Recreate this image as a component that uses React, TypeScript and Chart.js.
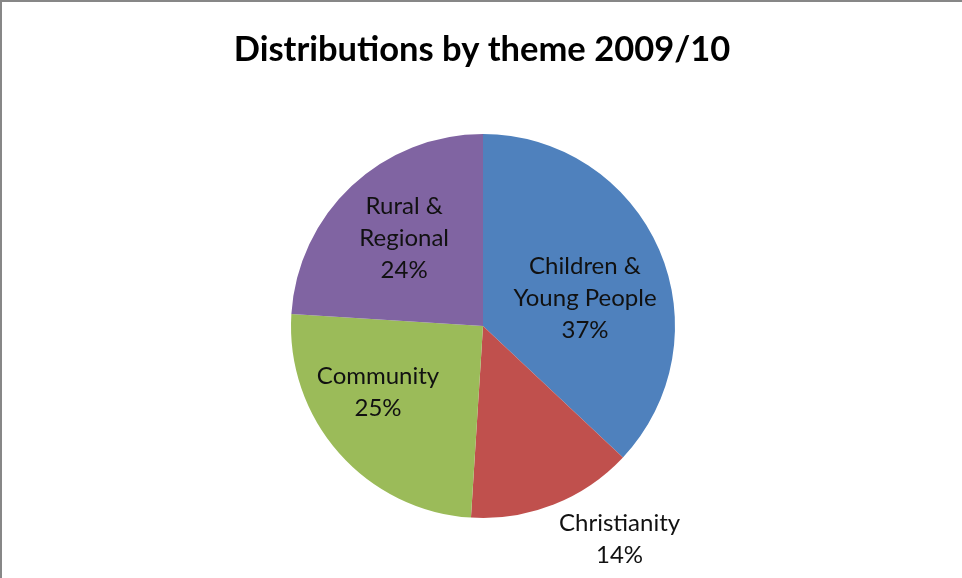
import React, { useEffect, useRef } from "react";
import { Chart, registerables } from "chart.js";

Chart.register(...registerables);

const chartTitle = "Distributions by theme 2009/10";
const categories = ["Children & Young People", "Christianity", "Community", "Rural & Regional"];
const labelLines = [["Children &", "Young People"], ["Christianity"], ["Community"], ["Rural &", "Regional"]];
const shares = [37, 14, 25, 24];
const sliceColors = ["#4F81BD", "#C0504D", "#9BBB59", "#8064A2"];

// label placement relative to each slice (radius fraction, angle shift in degrees)
const labelPlacement = [
  { r: 0.55, shift: 8.4 },
  { r: 1.32, shift: -11 },
  { r: 0.646, shift: 9.2 },
  { r: 0.615, shift: 1.3 },
];

const LABEL_FONT = "24px Lato, 'Open Sans', sans-serif";
const LINE_H = 32;

const overlayPlugin = {
  id: "overlay",
  afterDraw(chart: any) {
    const ctx = chart.ctx;
    ctx.save();
    ctx.fillStyle = "#000";
    ctx.textAlign = "center";
    ctx.textBaseline = "middle";
    ctx.font = "bold 34.5px Lato, 'Open Sans', sans-serif";
    ctx.fillText(chartTitle, 482, 50);

    ctx.font = LABEL_FONT;
    ctx.fillStyle = "#111";
    const meta = chart.getDatasetMeta(0);
    meta.data.forEach((arc: any, i: number) => {
      const { x, y, startAngle, endAngle, outerRadius } = arc.getProps(
        ["x", "y", "startAngle", "endAngle", "outerRadius"],
        true
      );
      const p = labelPlacement[i];
      const mid = (startAngle + endAngle) / 2 + (p.shift * Math.PI) / 180;
      const cx = x + Math.cos(mid) * outerRadius * p.r;
      const cy = y + Math.sin(mid) * outerRadius * p.r;
      const lines = [...labelLines[i], `${shares[i]}%`];
      const top = cy - ((lines.length - 1) * LINE_H) / 2;
      lines.forEach((t, k) => ctx.fillText(t, cx, top + k * LINE_H));
    });
    ctx.restore();
  },
};

export default function App() {
  const ref = useRef<HTMLCanvasElement | null>(null);
  useEffect(() => {
    if (!ref.current) return;
    const chart = new Chart(ref.current, {
      type: "pie",
      data: {
        labels: categories,
        datasets: [
          {
            data: shares,
            backgroundColor: sliceColors,
            borderColor: sliceColors,
            borderWidth: 0,
          },
        ],
      },
      options: {
        animation: false,
        responsive: false,
        devicePixelRatio: 1,
        layout: { padding: { left: 291, right: 287, top: 134, bottom: 60 } },
        plugins: {
          legend: { display: false },
          title: { display: false },
          tooltip: { enabled: false },
        },
      },
      plugins: [overlayPlugin],
    });
    return () => chart.destroy();
  }, []);

  return (
    <div style={{ position: "fixed", left: 0, top: 0, width: 962, height: 578, background: "#fff", overflow: "hidden" }}>
      <canvas ref={ref} width={962} height={578} style={{ position: "absolute", left: 0, top: 0 }} />
      <div
        style={{
          position: "absolute",
          left: 0,
          top: 0,
          width: 962,
          height: 578,
          boxSizing: "border-box",
          borderTop: "2px solid #878787",
          borderLeft: "2px solid #878787",
          pointerEvents: "none",
        }}
      />
    </div>
  );
}
